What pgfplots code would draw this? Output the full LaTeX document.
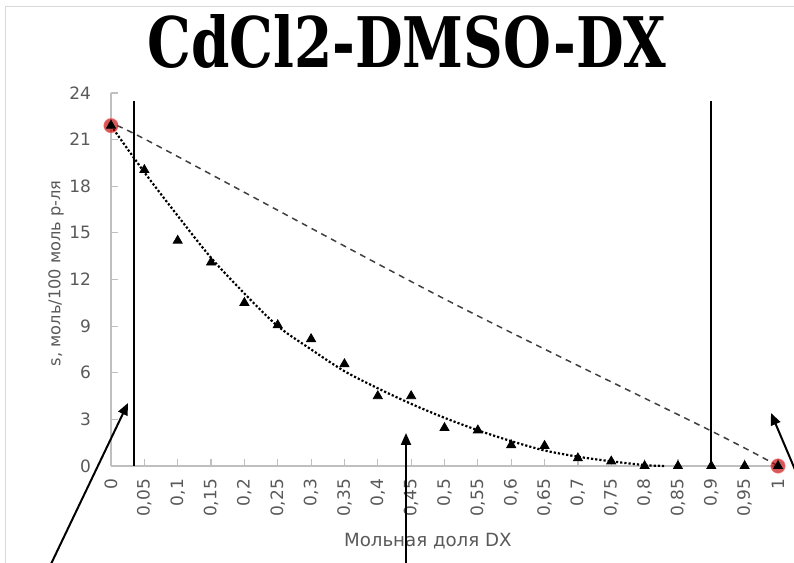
\documentclass[border=0pt]{standalone}
\usepackage{fontspec}
\setmainfont{DejaVu Sans}
\newfontfamily\titlefont{DejaVu Serif Bold}
\usepackage{pgfplots}
\pgfplotsset{compat=1.18}
\usetikzlibrary{arrows.meta}
\definecolor{txtgray}{HTML}{595959}
\definecolor{axgray}{HTML}{BFBFBF}
\definecolor{dashgray}{HTML}{404040}

\begin{document}
\begin{tikzpicture}
\clip (0,0) rectangle (397pt,281.5pt);
\draw[draw=black!15, line width=0.5pt] (2.5pt,0) -- (2.5pt,278pt) -- (400pt,278pt);
\node[anchor=base] at (203.5pt,247.5pt)
  {\resizebox{259.5pt}{26.5pt}{\titlefont CdCl2-DMSO-DX}};
\begin{axis}[
  at={(55.5pt,48.5pt)}, anchor=south west,
  scale only axis, width=333.5pt, height=186.5pt,
  xmin=0, xmax=1, ymin=0, ymax=24,
  clip=false,
  axis lines=left, axis line style={draw=axgray, line width=0.6pt, -},
  tick align=inside, major tick length=3.5pt,
  tick style={draw=axgray, line width=0.6pt},
  xtick={0,0.05,...,1.01},
  xticklabels={0,{0,05},{0,1},{0,15},{0,2},{0,25},{0,3},{0,35},{0,4},{0,45},{0,5},{0,55},{0,6},{0,65},{0,7},{0,75},{0,8},{0,85},{0,9},{0,95},1},
  ytick={0,3,...,24},
  /pgf/number format/assume math mode=true,
  ticklabel style={font=\fontsize{8.5}{10}\selectfont, text=txtgray},
  xticklabel style={rotate=90, anchor=east, xshift=-3pt},
  yticklabel style={anchor=east, xshift=-6.5pt},
  xlabel={Мольная доля DX},
  ylabel={s, моль/100 моль р-ля},
  label style={text=txtgray},
  xlabel style={font=\fontsize{9.1}{11}\selectfont, at={(axis description cs:0.475,-0.201)}, anchor=center},
  ylabel style={font=\fontsize{8.1}{10}\selectfont, at={(axis description cs:-0.0825,0.517)}, anchor=center},
]
% vertical boundary lines
\addplot[black, line width=0.85pt, no marks] coordinates {(0.0345,0)(0.0345,23.5)};
\addplot[black, line width=0.85pt, no marks] coordinates {(0.9,0)(0.9,23.5)};
% dashed line between end points
\addplot[dashgray, dash pattern=on 3pt off 2.5pt, line width=0.75pt, no marks, smooth]
  coordinates {(0,21.9)(0.05,21.05)(0.5,10.75)(0.9,2.25)(1,0)};
% dotted trend
\addplot[black, densely dotted, line width=1.1pt, no marks, smooth] coordinates {
(0,21.9)(0.05,18.9)(0.1,16.1)(0.15,13.4)(0.2,11.1)(0.25,9.0)(0.3,7.5)(0.35,6.1)
(0.4,5.0)(0.45,4.0)(0.5,3.1)(0.55,2.3)(0.6,1.6)(0.65,1.0)(0.7,0.6)(0.75,0.3)(0.8,0.06)(0.83,0)};
% end points
\addplot[only marks, mark=*, mark size=3.6pt, mark options={fill=red!75!black, draw=red!60, fill opacity=0.65, draw opacity=0.6}]
  coordinates {(0,21.9)(1,0)};
% measured solubility
\addplot[only marks, mark=triangle*, mark size=2.6pt, black] coordinates {
(0,21.9)(0.05,19.05)(0.1,14.5)(0.15,13.1)(0.2,10.5)(0.25,9.07)(0.3,8.17)(0.35,6.56)
(0.4,4.5)(0.45,4.5)(0.5,2.45)(0.55,2.3)(0.6,1.35)(0.65,1.3)(0.7,0.5)(0.75,0.3)
(0.8,0)(0.85,0)(0.9,0)(0.95,0)(1,0)};
\end{axis}
% annotation arrows
\draw[black, line width=1pt, -{Triangle[length=6pt,width=5pt]}] (20pt,-12pt) -- (64pt,80pt);
\draw[black, line width=1pt, -{Triangle[length=6pt,width=5pt]}] (203pt,-5pt) -- (203pt,65pt);
\draw[black, line width=1pt, -{Triangle[length=6pt,width=5pt]}] (405pt,29pt) -- (385.5pt,75pt);
\end{tikzpicture}
\end{document}
